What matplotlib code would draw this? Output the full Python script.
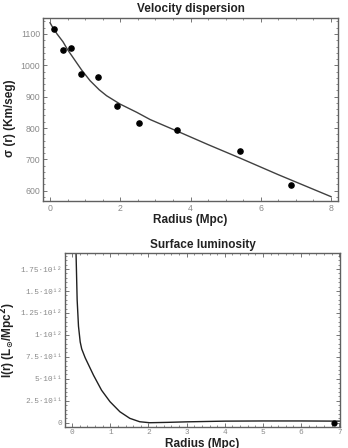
import matplotlib
matplotlib.use("Agg")
import matplotlib.pyplot as plt
from matplotlib.ticker import MultipleLocator, FuncFormatter

# ---- data: velocity dispersion ----
vd_radius = [0.12, 0.37, 0.61, 0.88, 1.36, 1.90, 2.54, 3.62, 5.41, 6.85]
vd_sigma = [1116, 1050, 1054, 972, 962, 870, 815, 794, 726, 617]
fit_radius = [0.0, 0.05, 0.2, 0.37, 0.5, 0.66, 0.9, 1.14, 1.4, 1.61, 2.0, 2.47, 2.85, 3.62, 4.5, 5.41, 6.5, 8.0]
fit_sigma = [1136, 1126, 1100, 1075, 1050, 1024, 985, 951, 922, 903, 876, 850, 827, 790, 747, 704, 651, 581]

# ---- data: surface luminosity (units of 1e12) ----
lum_radius = [0.10, 0.13, 0.165, 0.21, 0.25, 0.34, 0.45, 0.56, 0.77, 0.99, 1.25, 1.51,
              1.77, 2.03, 2.5, 3.0, 4.0, 5.0, 6.0, 7.0]
lum_value = [1.95, 1.40, 1.10, 0.92, 0.84, 0.74, 0.64, 0.54, 0.37, 0.24, 0.125, 0.05,
             0.011, 0.0, 0.004, 0.010, 0.018, 0.020, 0.020, 0.018]
lum_point_radius = [6.87]
lum_point_value = [0.0]

frame_col = "#606060"
tick_col = "#8a8a8a"

fig = plt.figure(figsize=(3.48, 4.48), dpi=100)

# ---------------- top panel ----------------
ax1 = fig.add_axes([0.1236, 0.5513, 0.8477, 0.4085])
ax1.plot(fit_radius, fit_sigma, color="#404040", lw=1.0)
ax1.scatter(vd_radius, vd_sigma, s=14, color="black", zorder=3)
ax1.set_xlim(-0.2, 8.2)
ax1.set_ylim(567, 1151)
ax1.xaxis.set_major_locator(MultipleLocator(2))
ax1.xaxis.set_minor_locator(MultipleLocator(0.5))
ax1.yaxis.set_major_locator(MultipleLocator(100))
ax1.yaxis.set_minor_locator(MultipleLocator(20))
ax1.set_title("Velocity dispersion", fontsize=8.5, fontweight="bold",
              family="Liberation Sans", pad=4, color="#222222")
ax1.set_xlabel("Radius (Mpc)", fontsize=8.5, fontweight="bold",
               family="Liberation Sans", labelpad=1, color="#222222")
ax1.set_ylabel("σ (r) (Km/seg)", fontsize=8.5, fontweight="bold",
               family="Liberation Sans", labelpad=3, color="#222222")
ax1.yaxis.set_label_coords(-0.09, 0.45)
for lab in ax1.get_xticklabels() + ax1.get_yticklabels():
    lab.set_family("Liberation Sans")

# ---------------- bottom panel ----------------
ax2 = fig.add_axes([0.1877, 0.0475, 0.7894, 0.3871])
ax2.plot(lum_radius, [v * 1e12 for v in lum_value], color="#202020", lw=1.0)
ax2.scatter(lum_point_radius, [v * 1e12 for v in lum_point_value], s=12,
            color="black", zorder=3)
ax2.set_xlim(-0.18, 7.02)
ax2.set_ylim(-0.0456e12, 1.93e12)
ax2.xaxis.set_major_locator(MultipleLocator(1))
ax2.xaxis.set_minor_locator(MultipleLocator(0.2))
ax2.yaxis.set_major_locator(MultipleLocator(0.25e12))
ax2.yaxis.set_minor_locator(MultipleLocator(0.05e12))


def lum_fmt(v, pos):
    if abs(v) < 1:
        return "0"
    sup = {"1": "¹", "2": "²"}
    if v >= 1e12 - 1:
        m = v / 1e12
        e = "12"
    else:
        m = v / 1e11
        e = "11"
    ms = ("%.2f" % m).rstrip("0").rstrip(".")
    return ms + "·10" + "".join(sup[c] for c in e)


ax2.yaxis.set_major_formatter(FuncFormatter(lum_fmt))
ax2.set_title("Surface luminosity", fontsize=8.5, fontweight="bold",
              family="Liberation Sans", pad=4, color="#222222")
ax2.set_xlabel("Radius (Mpc)", fontsize=8.5, fontweight="bold",
               family="Liberation Sans", labelpad=1, color="#222222")
plt.rcParams["mathtext.default"] = "bf"
ax2.set_ylabel(r"I(r) (L$_{\odot}$/Mpc$^{2}$)", fontsize=8.5, fontweight="bold",
               family="Liberation Sans", labelpad=2, color="#222222")
for lab in ax2.get_xticklabels() + ax2.get_yticklabels():
    lab.set_family("Liberation Mono")

for ax in (ax1, ax2):
    for sp in ax.spines.values():
        sp.set_color(frame_col)
        sp.set_linewidth(1.0)
    ax.tick_params(which="both", direction="in", top=True, right=True,
                   colors=frame_col, labelcolor=tick_col, pad=2)
    ax.tick_params(which="major", length=3, width=0.6)
    ax.tick_params(which="minor", length=1.5, width=0.5)
ax1.tick_params(labelsize=6.3)
ax2.tick_params(labelsize=5.6)

fig.savefig("out.png", dpi=100)
